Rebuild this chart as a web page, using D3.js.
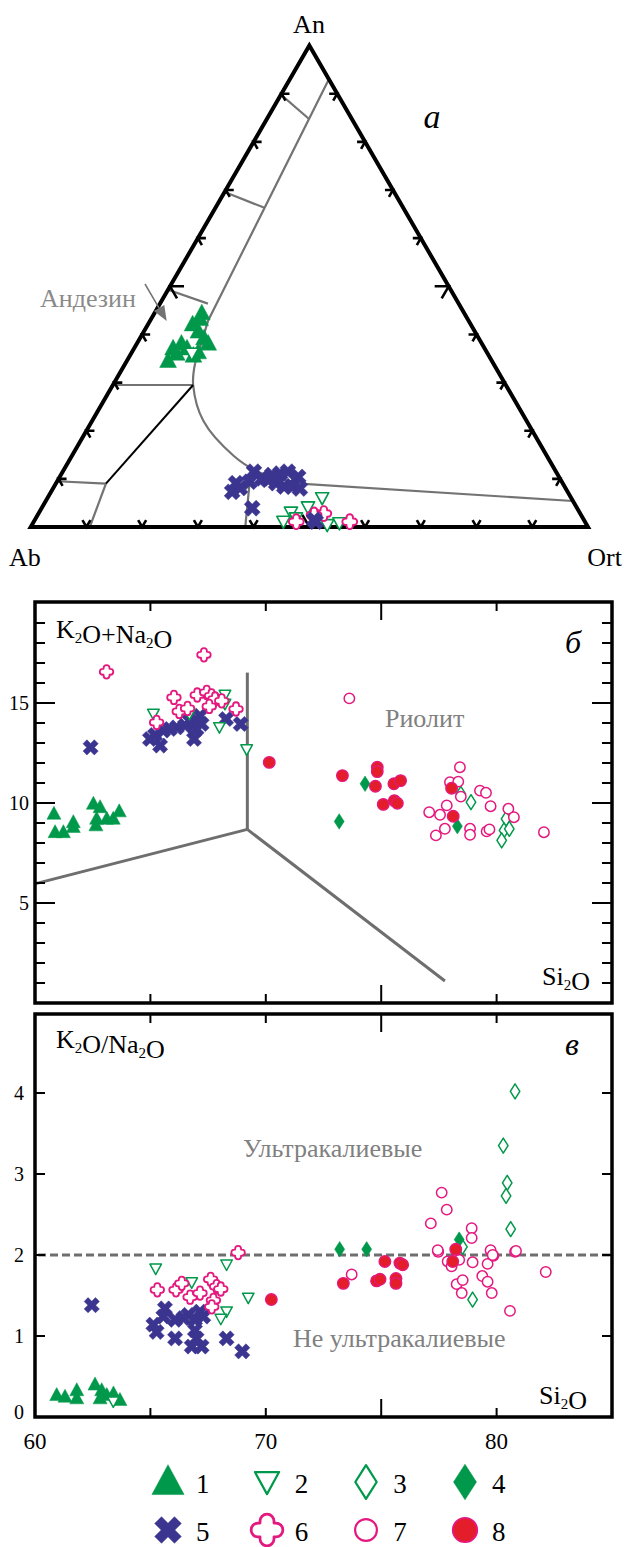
<!DOCTYPE html>
<html>
<head>
<meta charset="utf-8">
<script src="https://cdn.jsdelivr.net/npm/d3@7"></script>
<style>
body { margin: 0; background: #fff; }
text { font-family: "Liberation Serif", "DejaVu Serif", serif; }
</style>
</head>
<body>
<div id="chart"></div>
<script>
// ---- data: ternary An-Ab-Ort, values as [An %, Ort %] ----
const tri1 = [[43.2,8.8],[42.1,8.0],[40.6,9.8],[39.2,11.5],[38.1,12.8],[38.1,8.0],[37.1,7.0],[37.1,9.5],[36.3,11.9],[34.5,7.4],[35.6,11.4],[36.0,8.2],[44.4,8.5]];
const tri2 = [[36.0,10.9],[6.0,49.3],[4.1,47.7],[3.0,45.2],[1.1,44.8],[0.4,53.0],[0.8,55.0],[1.8,46.7]];
const tri5 = [[7.3,32.5],[9.1,32.3],[8.1,33.5],[11.5,34.3],[9.4,34.6],[10.1,36.5],[10.8,37.9],[11.1,39.2],[11.5,40.4],[10.4,42.8],[9.1,39.5],[8.4,41.3],[8.4,42.7],[8.0,44.3],[9.8,37.7],[3.9,37.8],[1.5,50.1],[1.1,50.6]];
const tri6 = [[1.1,47.1],[2.1,50.1],[2.8,51.2],[1.1,56.7],[2.5,49.6]];

// field boundaries in the ternary, [An, Ort]
const triMainLine = [[93,7],[42.9,10.4],[34.0,12.5]];
const triCurve = [[34.0,12.5],[29.5,14.4],[22.0,20.0],[14.8,29.0],[11.6,34.8],[9.0,43.8]];
const triRightLine = [[9.0,43.8],[5.4,94.6]];
const triGreyLines = [
    [[89.8,0],[84.8,7.5]],
    [[69.6,0],[66.3,8.8]],
    [[49.3,0],[46.4,8.6]],
    [[29.5,0],[29.5,14.4]],
    [[9.5,0],[9.0,9.0]],
    [[9.0,9.0],[0,10.6]],
    [[11.8,33.6],[0,38.5]]
];
const triBlackLine = [[29.5,14.4],[9.0,9.0]];
const triTicks = [10,20,30,40,50,60,70,80,90];

// ---- data: SiO2 vs K2O+Na2O ----
const tas1 = [[60.82,9.46],[60.87,8.54],[61.23,8.54],[61.66,9.04],[61.66,8.8],[62.53,9.96],[62.82,9.79],[62.67,9.21],[62.64,8.88],[63.11,9.21],[63.39,9.21],[63.65,9.58]];
const tas2 = [[65.13,14.45],[68.23,15.40],[68.23,14.95],[67.99,13.78],[69.17,12.67],[66.69,14.45]];
const tas3 = [[78.89,10.04],[80.41,9.21],[80.32,8.63],[80.55,8.71],[80.22,8.13],[78.45,10.46]];
const tas4 = [[74.30,10.96],[73.18,9.08],[78.30,8.84]];
const tas5 = [[62.41,12.78],[64.98,13.20],[65.42,12.87],[65.56,13.62],[65.85,13.70],[66.14,13.78],[66.50,13.87],[66.69,14.12],[66.93,14.03],[67.15,14.36],[67.0,13.70],[66.89,13.20],[67.22,13.95],[68.28,14.20],[68.91,13.95],[65.2,13.4]];
const tas6 = [[63.1,16.56],[67.32,17.41],[66.02,15.28],[65.27,14.03],[66.25,14.58],[66.61,14.73],[67.03,15.40],[67.44,15.53],[67.65,15.36],[67.80,15.20],[67.55,14.83],[68.09,15.11],[68.71,14.70]];
const tas7 = [[73.62,15.23],[78.41,11.79],[77.98,11.04],[78.34,11.07],[78.45,10.32],[79.28,10.62],[79.54,10.51],[79.74,9.84],[77.84,9.88],[77.55,9.41],[77.08,9.54],[77.76,8.71],[77.37,8.38],[78.85,8.71],[78.85,8.41],[79.57,8.58],[79.69,8.68],[80.51,9.71],[80.75,9.29],[82.05,8.54]];
const tas8 = [[70.15,12.03],[73.32,11.37],[74.83,11.79],[74.83,11.57],[74.75,10.84],[75.55,10.96],[75.84,11.12],[75.09,9.93],[75.57,10.12],[75.70,9.99],[78.05,10.74],[78.12,9.34]];
const tasLines = [
    [[60.03,5.97],[69.2,8.68]],
    [[69.2,8.68],[69.2,16.52]],
    [[69.2,8.68],[77.76,1.1]]
];

// ---- data: SiO2 vs K2O/Na2O ----
const kn1 = [[60.94,0.27],[61.3,0.25],[61.81,0.33],[61.81,0.23],[62.6,0.40],[62.89,0.33],[62.82,0.23],[63.11,0.27],[63.4,0.29],[63.68,0.21]];
const kn2 = [[63.39,0.19],[65.23,1.83],[66.79,1.66],[68.3,1.88],[69.24,1.47],[68.3,1.30],[68.05,1.21]];
const kn3 = [[80.8,4.02],[80.29,3.35],[80.46,2.89],[80.41,2.73],[80.61,2.32],[78.52,2.10],[78.96,1.45]];
const kn4 = [[73.2,2.07],[74.37,2.07],[78.38,2.19]];
const kn5 = [[62.46,1.38],[65.13,1.14],[65.27,1.05],[65.63,1.34],[65.56,1.24],[66.07,1.20],[66.07,0.97],[66.43,1.22],[66.64,1.26],[66.93,1.20],[66.93,1.07],[67.15,1.30],[67.29,1.24],[67.0,0.97],[66.79,0.87],[67.22,0.87],[68.3,0.97],[68.98,0.81]];
const kn6 = [[65.3,1.57],[66.11,1.57],[66.36,1.65],[66.72,1.48],[67.15,1.53],[67.61,1.70],[67.87,1.61],[68.05,1.58],[67.73,1.44],[67.66,1.36],[68.8,2.03]];
const kn7 = [[73.72,1.76],[77.88,1.92],[78.05,1.86],[78.38,1.94],[78.96,1.91],[79.61,1.89],[79.86,1.99],[80.8,2.04],[82.13,1.79],[78.27,1.64],[78.53,1.69],[78.49,1.53],[79.38,1.74],[79.61,1.67],[79.79,1.53],[80.58,1.31],[77.47,2.04],[77.62,2.77],[77.84,2.56],[77.15,2.39],[77.45,2.06],[78.92,2.33],[78.92,2.21],[79.74,2.06],[79.83,2.0],[80.84,2.05]];
const kn8 = [[70.24,1.45],[73.36,1.65],[74.8,1.68],[74.95,1.70],[75.16,1.92],[75.81,1.90],[75.93,1.88],[75.64,1.71],[75.64,1.65],[78.1,1.92],[78.23,2.07]];
const knLimit = 2;

const xTickLabels = [60, 70, 80];
const xTicks = [65, 70, 75, 80];
const tasTickLabels = [5, 10, 15];
const knTickLabels = [0, 1, 2, 3, 4];
const legendNames = ["1", "2", "3", "4", "5", "6", "7", "8"];

// ---- colours ----
const green = "#00984a", navy = "#3b3590", pink = "#e4187f", red = "#e31e2a", grey = "#737373";
const serif = "'Liberation Serif', 'DejaVu Serif', serif";
const sans = "'Liberation Sans', Arial, sans-serif";

const W = 624, H = 1547;
const svg = d3.select("#chart").append("svg")
    .attr("width", W)
    .attr("height", H)
    .style("background", "#fff");

// ---- marker shapes ----
function triUp(w, h) { return `M0,${-h * 0.58}L${w / 2},${h * 0.42}L${-w / 2},${h * 0.42}Z`; }
function triDown(w, h) { return `M0,${h * 0.55}L${w / 2},${-h * 0.45}L${-w / 2},${-h * 0.45}Z`; }
function diamond(w, h) { return `M0,${-h / 2}L${w / 2},0L0,${h / 2}L${-w / 2},0Z`; }
function plus(s, t) {
    const a = s / 2, b = t / 2;
    return `M${-b},${-a}L${b},${-a}L${b},${-b}L${a},${-b}L${a},${b}L${b},${b}L${b},${a}L${-b},${a}L${-b},${b}L${-a},${b}L${-a},${-b}L${-b},${-b}Z`;
}
function lobes(s) {
    const a = s / 2, b = s * 0.22;
    return `M${-b},${-a + b}A${b},${b} 0 0 1 ${b},${-a + b}L${b},${-b}L${a - b},${-b}A${b},${b} 0 0 1 ${a - b},${b}` +
        `L${b},${b}L${b},${a - b}A${b},${b} 0 0 1 ${-b},${a - b}L${-b},${b}L${-a + b},${b}A${b},${b} 0 0 1 ${-a + b},${-b}L${-b},${-b}Z`;
}

// style for each legend number, k = scale factor
function markerSpec(id, k) {
    switch (id) {
        case 1: return { d: triUp(14 * k, 13 * k), fill: green, stroke: green, sw: 0.5 };
        case 2: return { d: triDown(11.5 * k, 10.5 * k), fill: "#fff", stroke: green, sw: 1.5 * Math.sqrt(k) };
        case 3: return { d: diamond(9.5 * k, 15 * k), fill: "#fff", stroke: green, sw: 1.5 * Math.sqrt(k) };
        case 4: return { d: diamond(10 * k, 15.5 * k), fill: green, stroke: green, sw: 0.5 };
        case 5: return { d: plus(16 * k, 5.5 * k), fill: navy, stroke: navy, sw: 0.5, rot: 45 };
        case 6: return { d: lobes(13.5 * k), fill: "#fff", stroke: pink, sw: 1.8 * Math.sqrt(k) };
        case 7: return { d: d3.arc()({ innerRadius: 0, outerRadius: 5.2 * k, startAngle: 0, endAngle: 2 * Math.PI }), fill: "#fff", stroke: pink, sw: 1.5 * Math.sqrt(k) };
        case 8: return { d: d3.arc()({ innerRadius: 0, outerRadius: 5.8 * k, startAngle: 0, endAngle: 2 * Math.PI }), fill: red, stroke: pink, sw: 1.3 * Math.sqrt(k) };
    }
}

function drawMarkers(g, data, id, k, px, py) {
    const m = markerSpec(id, k);
    g.append("g").selectAll("path")
        .data(data)
        .enter().append("path")
        .attr("d", m.d)
        .attr("transform", d => `translate(${px(d)},${py(d)})` + (m.rot ? ` rotate(${m.rot})` : ""))
        .attr("fill", m.fill)
        .attr("stroke", m.stroke)
        .attr("stroke-width", m.sw)
        .attr("stroke-linejoin", "round");
}

// ================= panel a: ternary =================
const triLeft = 30.7, triRight = 588, triBase = 527, triTop = 45.6;
const sBase = d3.scaleLinear().domain([0, 100]).range([triLeft, triRight]);
const sHeight = d3.scaleLinear().domain([0, 100]).range([triBase, triTop]);
// [An, Ort] -> pixel
function tern(p) {
    const an = p[0], or = p[1];
    return [sBase(or) + (sBase(an) - sBase(0)) / 2, sHeight(an)];
}

const tri = svg.append("g");
const ternLine = d3.line().x(d => tern(d)[0]).y(d => tern(d)[1]);

// boundaries
tri.append("path").attr("d", ternLine(triMainLine)).attr("fill", "none").attr("stroke", grey).attr("stroke-width", 2.2);
tri.append("path").attr("d", ternLine.curve(d3.curveCatmullRom)(triCurve)).attr("fill", "none").attr("stroke", grey).attr("stroke-width", 2.2);
ternLine.curve(d3.curveLinear);
tri.append("path").attr("d", ternLine(triRightLine)).attr("fill", "none").attr("stroke", grey).attr("stroke-width", 2.2);
tri.selectAll(".gl")
    .data(triGreyLines)
    .enter().append("path")
    .attr("d", d => ternLine(d))
    .attr("fill", "none")
    .attr("stroke", grey)
    .attr("stroke-width", 2.2);
tri.append("path").attr("d", ternLine(triBlackLine)).attr("fill", "none").attr("stroke", "#000").attr("stroke-width", 2);

// outline
tri.append("path")
    .attr("d", ternLine([[0, 0], [0, 100], [100, 0]]) + "Z")
    .attr("fill", "none")
    .attr("stroke", "#000")
    .attr("stroke-width", 4)
    .attr("stroke-linejoin", "miter");

// chevron ticks on each edge
const c30 = Math.cos(Math.PI / 3), s60 = Math.sin(Math.PI / 3);
const edges = [
    { pt: v => [0, v], arms: [[-c30, -s60], [c30, -s60]] },       // base (Ab-Ort)
    { pt: v => [v, 0], arms: [[1, 0], [c30, s60]] },              // left (Ab-An)
    { pt: v => [v, 100 - v], arms: [[-1, 0], [-c30, s60]] }       // right (An-Ort)
];
edges.forEach(e => {
    triTicks.forEach(v => {
        const [x0, y0] = tern(e.pt(v));
        const len = v === 50 ? 14 : 8;
        const [a, b] = e.arms;
        tri.append("path")
            .attr("d", `M${x0 + a[0] * len},${y0 + a[1] * len}L${x0},${y0}L${x0 + b[0] * len},${y0 + b[1] * len}`)
            .attr("fill", "none")
            .attr("stroke", "#000")
            .attr("stroke-width", 2.6);
    });
});

const tx = d => tern(d)[0], ty = d => tern(d)[1];
drawMarkers(tri, tri1, 1, 1.2, tx, ty);
drawMarkers(tri, tri2, 2, 1.15, tx, ty);
drawMarkers(tri, tri6, 6, 1.1, tx, ty);
drawMarkers(tri, tri5, 5, 1.05, tx, ty);

tri.append("text").attr("x", 309).attr("y", 33).attr("text-anchor", "middle").attr("font-family", serif).attr("font-size", 26).text("An");
tri.append("text").attr("x", 9).attr("y", 566).attr("font-family", serif).attr("font-size", 26).text("Ab");
tri.append("text").attr("x", 622).attr("y", 566).attr("text-anchor", "end").attr("font-family", serif).attr("font-size", 26).text("Ort");
tri.append("text").attr("x", 432).attr("y", 128).attr("text-anchor", "middle").attr("font-family", serif).attr("font-size", 34).attr("font-style", "italic").text("a");
tri.append("text").attr("x", 40).attr("y", 307).attr("font-family", serif).attr("font-size", 26).attr("fill", "#8a8a8a").text("Андезин");

// annotation arrow
const arrowTip = tern([42.8, 3.0]);
const arrowStart = [145, 284];
const ang = Math.atan2(arrowTip[1] - arrowStart[1], arrowTip[0] - arrowStart[0]);
const back = [arrowTip[0] - 15 * Math.cos(ang), arrowTip[1] - 15 * Math.sin(ang)];
tri.append("line")
    .attr("x1", arrowStart[0]).attr("y1", arrowStart[1])
    .attr("x2", back[0]).attr("y2", back[1])
    .attr("stroke", grey).attr("stroke-width", 1.5);
tri.append("path")
    .attr("d", `M${arrowTip[0]},${arrowTip[1]}L${back[0] + 6 * Math.sin(ang)},${back[1] - 6 * Math.cos(ang)}L${back[0] - 6 * Math.sin(ang)},${back[1] + 6 * Math.cos(ang)}Z`)
    .attr("fill", grey);

// ================= shared x scale =================
const x = d3.scaleLinear().domain([60, 85]).range([35, 612]);

function subText(g, xPos, yPos, parts, anchor) {
    const t = g.append("text")
        .attr("x", xPos).attr("y", yPos)
        .attr("font-family", serif)
        .attr("font-size", 26)
        .attr("text-anchor", anchor || "start");
    parts.forEach(p => {
        if (p.sub) {
            t.append("tspan").attr("font-size", 15).attr("dy", 5).text(p.s);
            t.append("tspan").attr("dy", -5).text("");
        } else {
            t.append("tspan").text(p.s);
        }
    });
}

function framePanel(g, y, top, bottom, yTicks, longTicks) {
    // side ticks
    yTicks.forEach(v => {
        const len = longTicks.includes(v) ? 20 : 10;
        g.append("line").attr("x1", 35).attr("x2", 35 + len).attr("y1", y(v)).attr("y2", y(v)).attr("stroke", "#000").attr("stroke-width", 2);
        g.append("line").attr("x1", 612).attr("x2", 612 - len).attr("y1", y(v)).attr("y2", y(v)).attr("stroke", "#000").attr("stroke-width", 2);
    });
    // top and bottom ticks
    xTicks.forEach(v => {
        const len = v === 75 ? 18 : 9;
        g.append("line").attr("x1", x(v)).attr("x2", x(v)).attr("y1", top).attr("y2", top + len).attr("stroke", "#000").attr("stroke-width", 2);
        g.append("line").attr("x1", x(v)).attr("x2", x(v)).attr("y1", bottom).attr("y2", bottom - len).attr("stroke", "#000").attr("stroke-width", 2);
    });
    g.append("rect")
        .attr("x", 35).attr("y", top)
        .attr("width", 612 - 35).attr("height", bottom - top)
        .attr("fill", "none").attr("stroke", "#000").attr("stroke-width", 3.5);
}

// ================= panel б =================
const tasTop = 602, tasBottom = 1003;
const yTas = d3.scaleLinear().domain([0, 20.05]).range([tasBottom, tasTop]);
const gTas = svg.append("g");

gTas.selectAll(".bl")
    .data(tasLines)
    .enter().append("line")
    .attr("x1", d => x(d[0][0])).attr("y1", d => yTas(d[0][1]))
    .attr("x2", d => x(d[1][0])).attr("y2", d => yTas(d[1][1]))
    .attr("stroke", "#6e6e6e").attr("stroke-width", 3);

const px = d => x(d[0]);
const pyTas = d => yTas(d[1]);
drawMarkers(gTas, tas1, 1, 1, px, pyTas);
drawMarkers(gTas, tas5, 5, 1, px, pyTas);
drawMarkers(gTas, tas2, 2, 1, px, pyTas);
drawMarkers(gTas, tas6, 6, 1, px, pyTas);
drawMarkers(gTas, tas3, 3, 1, px, pyTas);
drawMarkers(gTas, tas4, 4, 1, px, pyTas);
drawMarkers(gTas, tas7, 7, 1, px, pyTas);
drawMarkers(gTas, tas8, 8, 1, px, pyTas);

framePanel(gTas, yTas, tasTop, tasBottom, d3.range(1, 20), tasTickLabels);

gTas.selectAll(".yl")
    .data(tasTickLabels)
    .enter().append("text")
    .attr("x", 29).attr("y", d => yTas(d)).attr("dy", "0.36em")
    .attr("text-anchor", "end")
    .attr("font-family", sans)
    .attr("font-size", 20)
    .text(d => d);

subText(gTas, 56, 638, [{ s: "K" }, { s: "2", sub: true }, { s: "O+Na" }, { s: "2", sub: true }, { s: "O" }]);
subText(gTas, 590, 985, [{ s: "Si" }, { s: "2", sub: true }, { s: "O" }], "end");
gTas.append("text").attr("x", 573).attr("y", 653).attr("text-anchor", "middle").attr("font-family", serif).attr("font-size", 32).attr("font-style", "italic").text("б");
gTas.append("text").attr("x", 385).attr("y", 727).attr("font-family", serif).attr("font-size", 26).attr("fill", "#808080").text("Риолит");

// ================= panel в =================
const knTop = 1014, knBottom = 1417;
const yKn = d3.scaleLinear().domain([0, 4.975]).range([knBottom, knTop]);
const gKn = svg.append("g");

gKn.append("line")
    .attr("x1", 38).attr("x2", 610)
    .attr("y1", yKn(knLimit)).attr("y2", yKn(knLimit))
    .attr("stroke", "#6e6e6e").attr("stroke-width", 3)
    .attr("stroke-dasharray", "8,4");

const pyKn = d => yKn(d[1]);
drawMarkers(gKn, kn1, 1, 1, px, pyKn);
drawMarkers(gKn, kn5, 5, 1, px, pyKn);
drawMarkers(gKn, kn2, 2, 1, px, pyKn);
drawMarkers(gKn, kn6, 6, 1, px, pyKn);
drawMarkers(gKn, kn3, 3, 1, px, pyKn);
drawMarkers(gKn, kn4, 4, 1, px, pyKn);
drawMarkers(gKn, kn7, 7, 1, px, pyKn);
drawMarkers(gKn, kn8, 8, 1, px, pyKn);

framePanel(gKn, yKn, knTop, knBottom, [1, 2, 3, 4], []);

gKn.selectAll(".yl")
    .data(knTickLabels)
    .enter().append("text")
    .attr("x", 24).attr("y", d => d === 0 ? yKn(d) - 5 : yKn(d)).attr("dy", "0.36em")
    .attr("text-anchor", "end")
    .attr("font-family", sans)
    .attr("font-size", 20)
    .text(d => d);

subText(gKn, 56, 1048, [{ s: "K" }, { s: "2", sub: true }, { s: "O/Na" }, { s: "2", sub: true }, { s: "O" }]);
subText(gKn, 587, 1404, [{ s: "Si" }, { s: "2", sub: true }, { s: "O" }], "end");
gKn.append("text").attr("x", 572).attr("y", 1055).attr("text-anchor", "middle").attr("font-family", serif).attr("font-size", 32).attr("font-style", "italic").text("в");
gKn.append("text").attr("x", 243).attr("y", 1157).attr("font-family", serif).attr("font-size", 26).attr("fill", "#808080").text("Ультракалиевые");
gKn.append("text").attr("x", 293).attr("y", 1347).attr("font-family", serif).attr("font-size", 26).attr("fill", "#808080").text("Не ультракалиевые");

// x labels
svg.selectAll(".xl")
    .data(xTickLabels)
    .enter().append("text")
    .attr("x", d => x(d)).attr("y", 1449)
    .attr("text-anchor", "middle")
    .attr("font-family", sans)
    .attr("font-size", 23)
    .text(d => d);

// ================= legend =================
const legCol = d3.scalePoint().domain([0, 1, 2, 3]).range([168, 465]);
const legLabel = d3.scalePoint().domain([0, 1, 2, 3]).range([196, 492]);
const legRow = d3.scalePoint().domain([0, 1]).range([1482, 1530]);
const legScale = [2.3, 2.1, 2.25, 2.3, 1.75, 2.35, 2.1, 2.1];
const leg = svg.append("g");
legendNames.forEach((name, i) => {
    const id = i + 1;
    const cx = legCol(i % 4), cy = legRow(Math.floor(i / 4));
    drawMarkers(leg, [[cx, cy]], id, legScale[i], d => d[0], d => d[1]);
    leg.append("text")
        .attr("x", legLabel(i % 4)).attr("y", cy + 11)
        .attr("font-family", serif)
        .attr("font-size", 27)
        .text(name);
});
</script>
</body>
</html>
